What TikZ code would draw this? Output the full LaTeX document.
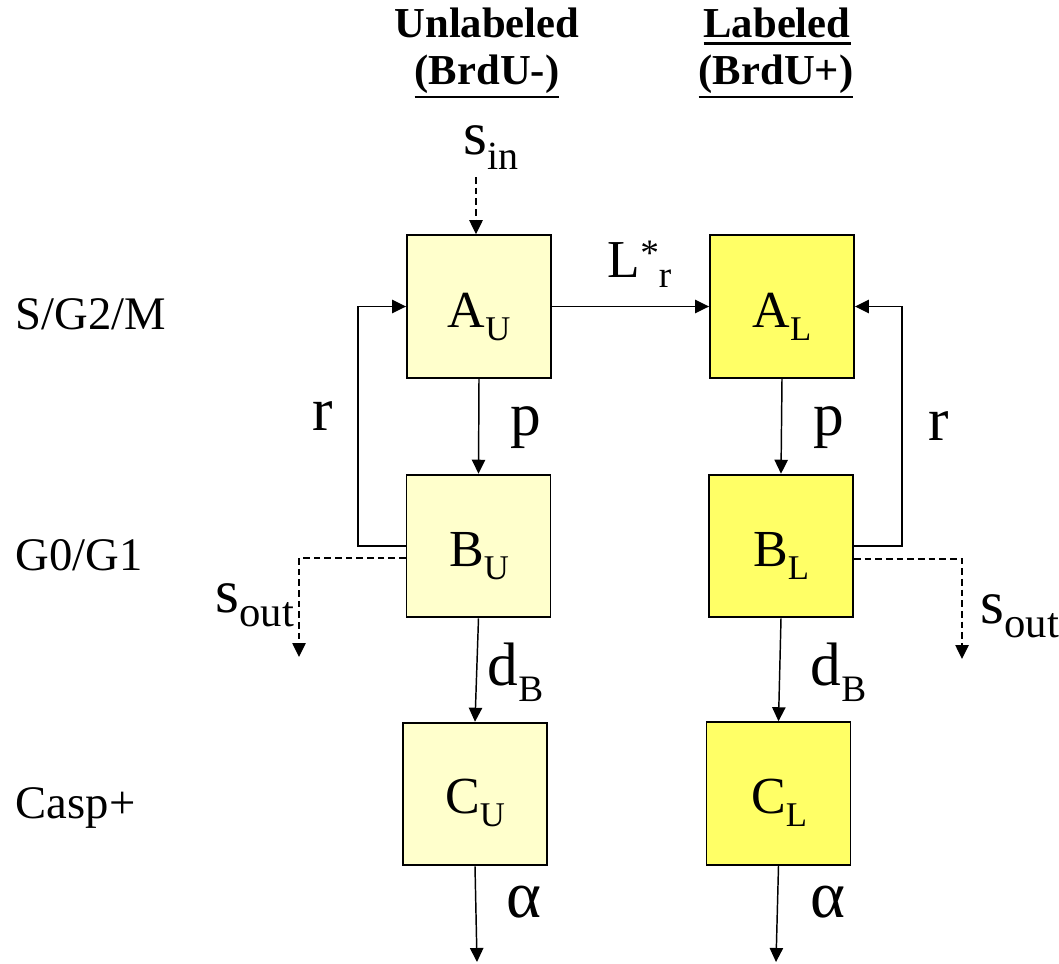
\documentclass[tikz,border=0pt]{standalone}
\usepackage{fontspec}
\setmainfont{Liberation Serif}
\usetikzlibrary{arrows.meta}

\definecolor{uyellow}{HTML}{FFFFCC}
\definecolor{lyellow}{HTML}{FFFF66}

\newcommand\fs[1]{\fontsize{#1}{#1}\selectfont}
% symbol with lowered subscript: size, subscript size, drop, symbol, subscript
\newcommand\symsub[5]{{\fs{#1}#4}\raisebox{-#3}{\fs{#2}#5}}
% thick underline: bottom depth of the rule, text
\newcommand\ulx[2]{\setbox0\hbox{#2}\rlap{\rule[-#1]{\wd0}{2.2pt}}\box0}

\begin{document}
\begin{tikzpicture}[x=0.75pt, y=-0.75pt, line width=1.1pt,
  >={Triangle[length=10.5pt,width=10pt]},
  ubox/.style={draw, line width=1.4pt, fill=uyellow, minimum width=108pt, minimum height=107pt, inner sep=0pt},
  lbox/.style={ubox, fill=lyellow},
  txt/.style={inner sep=0pt, anchor=base},
  lbl/.style={inner sep=0pt, anchor=base west},
  flow/.style={->},
  side/.style={->, dash pattern=on 5pt off 3pt}]

\path[use as bounding box] (0,0) rectangle (1059,963);

% column headers
\node[txt] (h1) at (487,38) {\fs{32pt}\bfseries Unlabeled};
\node[txt] (h2) at (487,85) {\fs{32pt}\bfseries\ulx{10.1pt}{(BrdU-)}};
\node[txt] (h3) at (777,38) {\fs{32pt}\bfseries\ulx{4.9pt}{Labeled}};
\node[txt] (h4) at (776,85) {\fs{32pt}\bfseries\ulx{10.1pt}{(BrdU+)}};

% row labels
\node[lbl] (r1) at (15,329) {\fs{35pt}S/G2/M};
\node[lbl] (r2) at (15,570) {\fs{35pt}G0/G1};
\node[lbl] (r3) at (15,818) {\fs{35pt}Casp+};

% compartments
\node[ubox] (AU) at (479,306.5) {};
\node[lbox] (AL) at (782,306.5) {};
\node[ubox] (BU) at (478.5,546) {};
\node[lbox] (BL) at (781,546) {};
\node[ubox] (CU) at (475,794) {};
\node[lbox] (CL) at (778.5,793.5) {};

\node[txt] (tAU) at (479,327) {\symsub{39pt}{26pt}{10pt}{A}{U}};
\node[txt] (tAL) at (782,327) {\symsub{39pt}{26pt}{10pt}{A}{L}};
\node[txt] (tBU) at (479,566) {\symsub{39pt}{26pt}{10pt}{B}{U}};
\node[txt] (tBL) at (781,566) {\symsub{39pt}{26pt}{10pt}{B}{L}};
\node[txt] (tCU) at (475,813) {\symsub{39pt}{26pt}{10pt}{C}{U}};
\node[txt] (tCL) at (779,813) {\symsub{39pt}{26pt}{10pt}{C}{L}};

% rate labels
\node[lbl] (lsin) at (463,155) {\symsub{46pt}{30pt}{11pt}{s}{in}};
\node[lbl] (lLr) at (607,277) {{\fs{40pt}L}\raisebox{9pt}{\fs{28pt}*}\raisebox{-8pt}{\fs{28pt}r}};
\node[lbl] (lpU) at (510,435) {\fs{46pt}p};
\node[lbl] (lpL) at (813,435) {\fs{46pt}p};
\node[lbl] (lrU) at (312,430) {\fs{46pt}r};
\node[lbl] (lrL) at (928,440) {\fs{46pt}r};
\node[lbl] (lsoU) at (215,612) {\symsub{46pt}{32pt}{11pt}{s}{out}};
\node[lbl] (lsoL) at (980,623) {\symsub{46pt}{32pt}{11pt}{s}{out}};
\node[lbl] (ldU) at (487,685) {\symsub{46pt}{28pt}{12.7pt}{d}{B}};
\node[lbl] (ldL) at (810,685) {\symsub{46pt}{28pt}{12.7pt}{d}{B}};
\node[lbl] (laU) at (506,917) {\fs{50pt}α};
\node[lbl] (laL) at (810,917) {\fs{50pt}α};

% free ends of connectors
\coordinate (sinTop) at (476,177);
\coordinate (outU) at (477,962);
\coordinate (outL) at (776,962);
\coordinate (loopU) at (358,430);
\coordinate (loopL) at (902,430);
\coordinate (soU) at (299,657);
\coordinate (soL) at (962,659);

% connectors
\draw[side] (sinTop) -- (sinTop |- AU.north);
\draw[flow] (AU.east) -- (AL.west);
\draw[flow] (AU.south) -- (BU.north);
\draw[flow] (AL.south) -- (BL.north);
\draw[flow] (BU.south) -- (CU.north);
\draw[flow] (BL.south) -- (CL.north);
\draw[flow] (CU.south) -- (outU);
\draw[flow] (CL.south) -- (outL);
\draw[flow] (BU.west) -| (loopU) |- (AU.west);
\draw[flow] (BL.east) -| (loopL) |- (AL.east);
\draw[side] ([yshift=-9pt]BU.west) -| (soU);
\draw[side] ([yshift=-9.75pt]BL.east) -| (soL);
\end{tikzpicture}
\end{document}
